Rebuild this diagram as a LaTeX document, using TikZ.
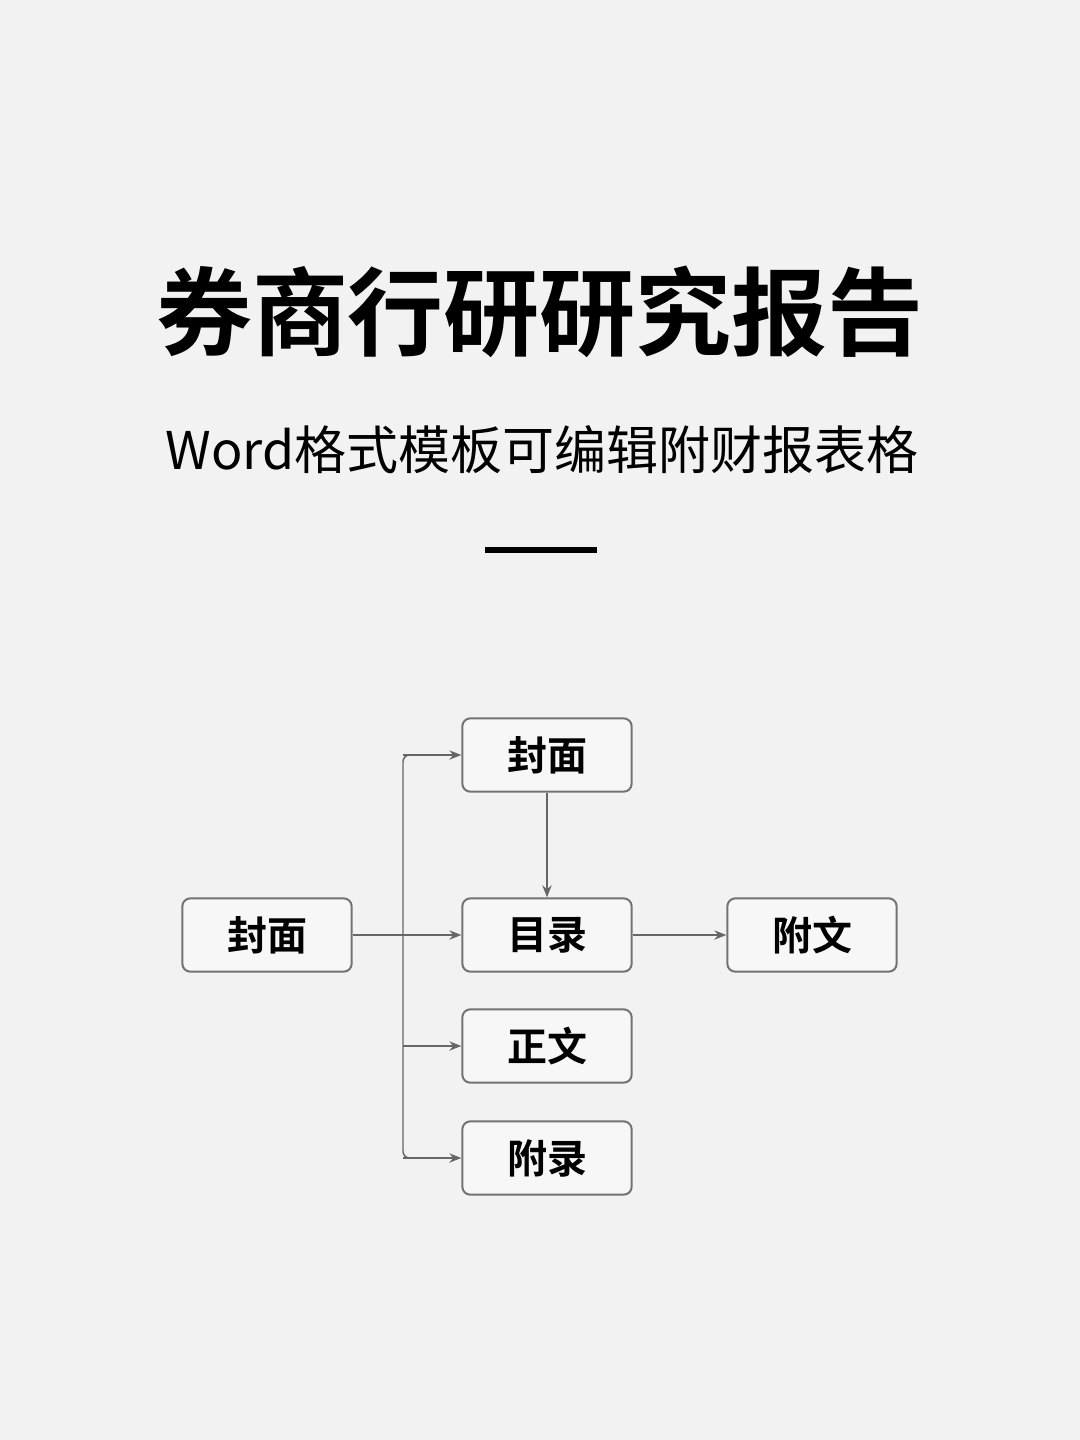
\documentclass[tikz,border=0pt]{standalone}
\usepackage{fontspec}
\setmainfont{Noto Sans CJK SC}
\newfontfamily\cjk{Noto Sans CJK SC}[BoldFont={Noto Sans CJK SC Bold}]
\usetikzlibrary{arrows.meta}
\begin{document}
\begin{tikzpicture}[x=0.75pt,y=-0.75pt,
  box/.style={draw=black!55,line width=1.5pt,rounded corners=6pt,fill=black!3,minimum width=127pt,minimum height=55pt,inner sep=0pt,font=\cjk\bfseries\fontsize{30}{30}\selectfont},
  conn/.style={draw=black!60,line width=1.1pt},
  arr/.style={conn,-{Stealth[length=9pt,width=7pt]}}]
\fill[black!5] (0,0) rectangle (1080,1440);
\useasboundingbox (0,0) rectangle (1080,1440);
\node[font=\cjk\bfseries\fontsize{72}{72}\selectfont] (title) at (540,312) {券商行研研究报告};
\node[font=\cjk\fontsize{39}{39}\selectfont] (sub) at (542,450) {Word格式模板可编辑附财报表格};
\coordinate (la) at (485,550); \coordinate (lb) at (597,550);
\draw[line width=4pt] (la) -- (lb);
\node[box] (a) at (267,935) {封面};
\node[box] (b1) at (547,755) {封面};
\node[box] (b2) at (547,935) {目录};
\node[box] (b3) at (547,1046) {正文};
\node[box] (b4) at (547,1158) {附录};
\node[box] (c) at (812,935) {附文};
\coordinate (j) at (403,935);
\coordinate (jt) at (403,755);
\coordinate (jb) at (403,1158);
\coordinate (j3) at (403,1046);
\draw[conn,rounded corners=5pt] (b1.west) ++(-12pt,0) -- (jt) -- (jb) -- ++(20pt,0);
\draw[arr] (a.east) -- (b2.west);
\draw[arr] (jt) -- (b1.west);
\draw[arr] (j3) -- (b3.west);
\draw[arr] (jb) -- (b4.west);
\draw[arr] (b1.south) -- (b2.north);
\draw[arr] (b2.east) -- (c.west);
\end{tikzpicture}
\end{document}
